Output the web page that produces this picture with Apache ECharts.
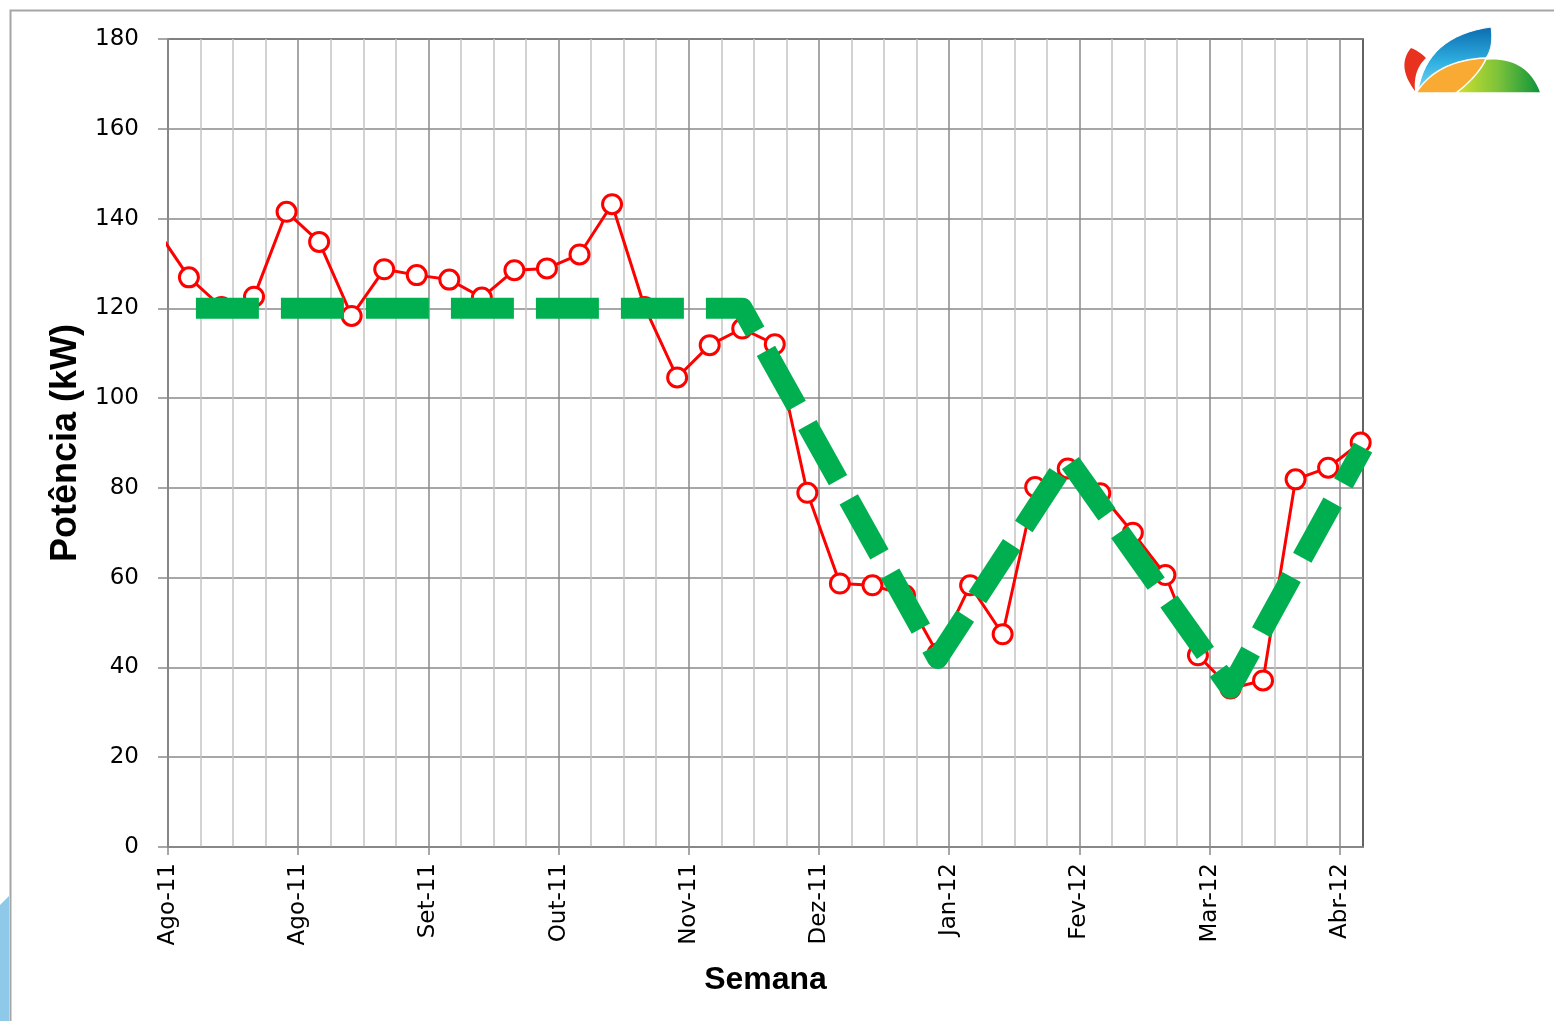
<!DOCTYPE html>
<html>
<head>
<meta charset="utf-8">
<script src="https://cdn.jsdelivr.net/npm/echarts@6/dist/echarts.min.js"></script>
<style>
  html, body { margin: 0; padding: 0; background: #fff; }
  #container { width: 1554px; height: 1021px; }
</style>
</head>
<body>
<div id="container"></div>
<script>
// eixo x em dias a partir de 01/08/2011, marcas principais a cada 28 dias
const rotulosX = ['Ago-11', 'Ago-11', 'Set-11', 'Out-11', 'Nov-11', 'Dez-11', 'Jan-12', 'Fev-12', 'Mar-12', 'Abr-12']

// potência semanal medida (kW)
const diasMedida = [-2.5, 4.5, 11.5, 18.5, 25.5, 32.5, 39.5, 46.5, 53.5, 60.5, 67.5, 74.5, 81.5, 88.5, 95.5,
  102.5, 109.5, 116.5, 123.5, 130.5, 137.5, 144.5, 151.5, 158.5, 165.5, 172.5, 179.5, 186.5, 193.5,
  200.5, 207.5, 214.5, 221.5, 228.5, 235.5, 242.5, 249.5, 256.5]
const potencia = [137.6, 126.9, 120.3, 122.6, 141.5, 134.8, 118.3, 128.7, 127.4, 126.4, 122.4, 128.5, 128.9, 132.0, 143.2,
  120.3, 104.6, 111.8, 115.5, 112.0, 78.9, 58.7, 58.3, 56.1, 43.1, 58.3, 47.4, 80.2, 84.3,
  78.8, 70.0, 60.6, 42.7, 35.3, 37.1, 81.9, 84.5, 90.1]

// tendência (linha verde tracejada)
const diasTendencia = [6, 123.5, 165.5, 193.5, 228.5, 257]
const tendencia = [120, 120, 42, 86.4, 35.4, 89]

const pares = (xs, ys) => xs.map((x, i) => [x, ys[i]])
const marcasX = rotulosX.map((r, i) => i * 28)

// contorno do logotipo: sequência de curvas quadráticas [controle, fim]
function contorno(inicio, curvas) {
  let pts = [inicio]
  let p0 = inicio
  curvas.forEach(function(c) {
    let ctrl = c[0], p1 = c[1]
    for (let k = 1; k <= 16; k++) {
      let t = k / 16
      pts.push([
        (1 - t) * (1 - t) * p0[0] + 2 * (1 - t) * t * ctrl[0] + t * t * p1[0],
        (1 - t) * (1 - t) * p0[1] + 2 * (1 - t) * t * ctrl[1] + t * t * p1[1]
      ])
    }
    p0 = p1
  })
  return pts
}

let myChart = echarts.init(document.getElementById('container'), null, { renderer: 'canvas' })

let option = {
  animation: false,
  backgroundColor: '#fff',
  grid: {
    left: 168,
    top: 39,
    right: 191,
    bottom: 174,
    show: true,
    borderColor: '#303030',
    borderWidth: 1.5
  },
  xAxis: {
    type: 'value',
    min: 0,
    max: 257,
    interval: 28,
    name: 'Semana',
    nameLocation: 'middle',
    nameGap: 117,
    nameTextStyle: {
      fontFamily: 'Liberation Sans',
      fontWeight: 'bold',
      fontSize: 32,
      color: '#000'
    },
    axisLine: { lineStyle: { color: '#8a8a8a', width: 1.5 } },
    axisTick: { show: true, length: 8, customValues: marcasX, lineStyle: { color: '#8a8a8a', width: 1.5 } },
    minorTick: { show: false, splitNumber: 4 },
    splitLine: { show: true, lineStyle: { color: '#8a8a8a', width: 1.5 } },
    minorSplitLine: { show: true, lineStyle: { color: '#c4c4c4', width: 1.5 } },
    axisLabel: {
      rotate: 90,
      margin: 16,
      customValues: marcasX,
      fontFamily: 'DejaVu Sans',
      fontSize: 23,
      color: '#000',
      formatter: function(v) {
        let i = Math.round(v / 28)
        return (v % 28 === 0 && rotulosX[i]) ? rotulosX[i] : ''
      }
    }
  },
  yAxis: {
    type: 'value',
    min: 0,
    max: 180,
    interval: 20,
    name: 'Potência (kW)',
    nameLocation: 'middle',
    nameGap: 80,
    nameTextStyle: {
      fontFamily: 'Liberation Sans',
      fontWeight: 'bold',
      fontSize: 36,
      color: '#000'
    },
    axisLine: { show: true, lineStyle: { color: '#8a8a8a', width: 1.5 } },
    axisTick: { show: true, length: 10, lineStyle: { color: '#8a8a8a', width: 1.5 } },
    splitLine: { lineStyle: { color: '#8a8a8a', width: 1.5 } },
    axisLabel: {
      margin: 29,
      fontFamily: 'DejaVu Sans',
      fontSize: 23,
      color: '#000'
    }
  },
  series: [
    {
      name: 'Potência',
      type: 'line',
      data: pares(diasMedida, potencia),
      symbol: 'circle',
      symbolSize: 19,
      showAllSymbol: true,
      lineStyle: { color: '#ff0000', width: 3 },
      itemStyle: { color: '#fff', borderColor: '#ff0000', borderWidth: 3 },
      z: 2
    },
    {
      name: 'Tendência',
      type: 'line',
      data: pares(diasTendencia, tendencia),
      showSymbol: false,
      symbol: 'none',
      lineStyle: {
        color: '#00b050',
        width: 21,
        type: [63, 22],
        cap: 'butt',
        join: 'round'
      },
      z: 3
    }
  ],
  graphic: [
    // moldura externa
    {
      type: 'rect',
      shape: { x: 10.5, y: 10.5, width: 1700, height: 1200 },
      style: { fill: 'none', stroke: '#a6a6a6', lineWidth: 2 },
      silent: true
    },
    // faixa azul no canto inferior esquerdo
    {
      type: 'polygon',
      shape: { points: [[0, 905], [9, 896], [9, 1021], [0, 1021]] },
      style: { fill: '#8fc9ea' },
      silent: true
    },
    // logotipo
    {
      type: 'polygon',
      shape: { points: contorno([1411, 48], [[[1396, 66], [1415, 91]], [[1413, 70], [1426, 58]], [[1419, 51], [1411, 48]]]) },
      style: { fill: '#e8311f' },
      silent: true
    },
    {
      type: 'polygon',
      shape: { points: contorno([1418, 91], [[[1427, 36], [1491, 27]], [[1494, 48], [1485, 59]], [[1437, 62], [1418, 91]]]) },
      style: {
        fill: new echarts.graphic.LinearGradient(0, 0, 0, 1, [
          { offset: 0, color: '#0b6bb0' },
          { offset: 0.55, color: '#2fb0e0' },
          { offset: 1, color: '#7fd6f2' }
        ]),
        stroke: '#fff',
        lineWidth: 1
      },
      silent: true
    },
    {
      type: 'polygon',
      shape: { points: contorno([1416, 93], [[[1437, 60], [1486, 58]], [[1480, 80], [1456, 93]]]) },
      style: { fill: '#f8aa32', stroke: '#fff', lineWidth: 1.5 },
      silent: true
    },
    {
      type: 'polygon',
      shape: { points: contorno([1456, 93], [[[1478, 76], [1486, 59]], [[1528, 56], [1541, 93]]]) },
      style: {
        fill: new echarts.graphic.LinearGradient(0, 0, 1, 0, [
          { offset: 0, color: '#d4e22c' },
          { offset: 0.5, color: '#7cc23a' },
          { offset: 1, color: '#07923c' }
        ]),
        stroke: '#fff',
        lineWidth: 1.5
      },
      silent: true
    }
  ]
}

option && myChart.setOption(option)
</script>
</body>
</html>
